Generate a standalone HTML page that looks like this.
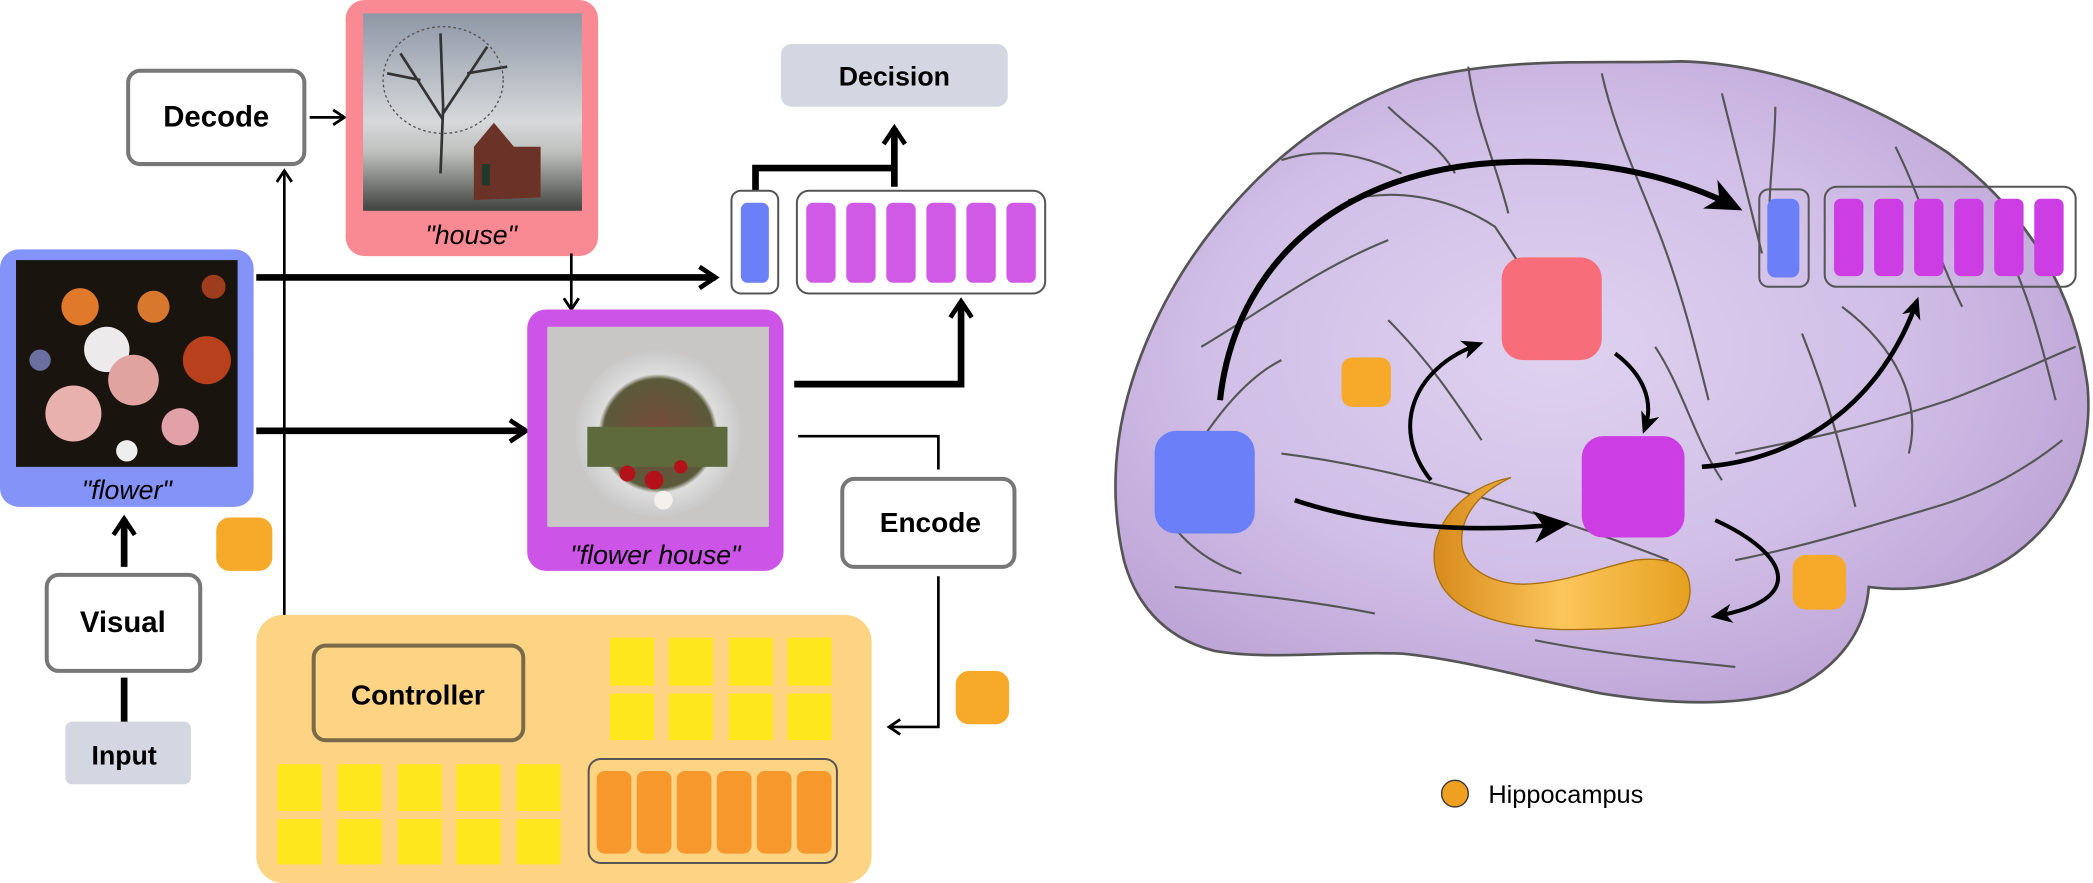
<!DOCTYPE html>
<html><head><meta charset="utf-8"><style>
html,body{margin:0;padding:0;background:#fff;}
svg{display:block;}
text{font-family:"Liberation Sans",sans-serif;}
</style></head><body>
<svg width="2093" height="883" viewBox="0 0 1568 662" preserveAspectRatio="none">
<defs>
<marker id="chev" viewBox="0 0 20 20" refX="16" refY="10" markerWidth="20" markerHeight="20" markerUnits="userSpaceOnUse" orient="auto"><path d="M4,2 L16,10 L4,18" fill="none" stroke="#000" stroke-width="3.5"/></marker>
<marker id="chevS" viewBox="0 0 20 20" refX="16" refY="10" markerWidth="14" markerHeight="14" markerUnits="userSpaceOnUse" orient="auto"><path d="M4,2 L16,10 L4,18" fill="none" stroke="#000" stroke-width="3"/></marker>
<marker id="tri" viewBox="0 0 20 20" refX="14" refY="10" markerWidth="18" markerHeight="18" markerUnits="userSpaceOnUse" orient="auto"><path d="M0,2 L18,10 L0,18 L5,10Z" fill="#000"/></marker>
<marker id="triB" viewBox="0 0 20 20" refX="14" refY="10" markerWidth="30" markerHeight="30" markerUnits="userSpaceOnUse" orient="auto"><path d="M0,2 L18,10 L0,18 L5,10Z" fill="#000"/></marker>
<linearGradient id="sky" x1="0" y1="0" x2="0" y2="1"><stop offset="0" stop-color="#8e97a6"/><stop offset="0.55" stop-color="#d6d8da"/><stop offset="0.7" stop-color="#bfc1bf"/><stop offset="1" stop-color="#3f4340"/></linearGradient>
<radialGradient id="fh" cx="0.5" cy="0.5" r="0.6"><stop offset="0" stop-color="#7a4a3a"/><stop offset="0.55" stop-color="#5a5a3a"/><stop offset="0.6" stop-color="#ddd"/><stop offset="1" stop-color="#bbb"/></radialGradient>
<radialGradient id="brainG" cx="0.45" cy="0.45" r="0.6"><stop offset="0" stop-color="#dfd2f0"/><stop offset="0.6" stop-color="#d0bee6"/><stop offset="1" stop-color="#bca4d6"/></radialGradient>
<linearGradient id="hip" x1="0" y1="0" x2="1" y2="0"><stop offset="0" stop-color="#d88a1c"/><stop offset="0.5" stop-color="#fbc65a"/><stop offset="1" stop-color="#e5a020"/></linearGradient>
</defs>

<!-- LEFT PANEL -->
<g>
<rect x="96" y="53" width="132" height="70" rx="9" fill="#fff" stroke="#777" stroke-width="3"/>
<text x="162" y="95" font-size="22" font-weight="bold" text-anchor="middle">Decode</text></g>
<line x1="232" y1="88" x2="258" y2="88" stroke="#000" stroke-width="2" marker-end="url(#chevS)"/>

<g>
<rect x="259" y="0" width="189" height="192" rx="14" fill="#f98a94"/>
<rect x="272" y="10" width="164" height="148" fill="url(#sky)"/>
<path d="M330,130 L332,80 M332,90 L300,40 M332,85 L365,35 M332,80 L330,25 M315,60 L290,55 M350,55 L380,50" stroke="#333" stroke-width="2" fill="none"/>
<ellipse cx="332" cy="60" rx="45" ry="40" fill="none" stroke="#555" stroke-width="1" stroke-dasharray="2 2"/>
<path d="M355,150 L355,110 L370,92 L385,110 L405,110 L405,148Z" fill="#6b3328"/>
<rect x="361" y="123" width="6" height="16" fill="#1f3a2a"/>
<text x="353" y="183" font-size="20" font-style="italic" text-anchor="middle">"house"</text></g>
<line x1="428" y1="190" x2="428" y2="232" stroke="#000" stroke-width="2" marker-end="url(#chevS)"/>

<g>
<rect x="0" y="187" width="190" height="193" rx="14" fill="#8493f8"/>
<rect x="12" y="195" width="166" height="155" fill="#1a140e"/>
<circle cx="60" cy="230" r="14" fill="#e07a2a"/><circle cx="80" cy="262" r="17" fill="#eceaea"/>
<circle cx="155" cy="270" r="18" fill="#b8401c"/><circle cx="100" cy="285" r="19" fill="#e1a3a0"/>
<circle cx="55" cy="310" r="21" fill="#e8b1ad"/><circle cx="135" cy="320" r="14" fill="#e2a0a8"/>
<circle cx="115" cy="230" r="12" fill="#d7782e"/><circle cx="30" cy="270" r="8" fill="#6a6fa0"/>
<circle cx="160" cy="215" r="9" fill="#9e3c1e"/><circle cx="95" cy="338" r="8" fill="#eee"/>
<text x="95" y="374" font-size="20" font-style="italic" text-anchor="middle">"flower"</text></g>

<line x1="192" y1="208" x2="536" y2="208" stroke="#000" stroke-width="5" marker-end="url(#chev)"/>
<line x1="192" y1="323" x2="394" y2="323" stroke="#000" stroke-width="5" marker-end="url(#chev)"/>
<line x1="213" y1="520" x2="213" y2="128" stroke="#000" stroke-width="2" marker-end="url(#chevS)"/>

<g>
<rect x="395" y="232" width="192" height="196" rx="14" fill="#cc55e8"/>
<rect x="410" y="245" width="166" height="150" fill="#c9c7c5"/>
<ellipse cx="493" cy="325" rx="62" ry="62" fill="url(#fh)"/>
<rect x="440" y="320" width="105" height="30" fill="#5e6a3c"/>
<circle cx="470" cy="355" r="6" fill="#b3121a"/><circle cx="490" cy="360" r="7" fill="#b3121a"/><circle cx="510" cy="350" r="5" fill="#b3121a"/><circle cx="497" cy="375" r="7" fill="#f4f0ec"/>
<text x="491" y="423" font-size="20" font-style="italic" text-anchor="middle">"flower house"</text></g>

<g>
<rect x="585" y="33" width="170" height="47" rx="8" fill="#d4d7e2"/>
<text x="670" y="64" font-size="20" font-weight="bold" text-anchor="middle">Decision</text></g>
<path d="M566,155 L566,126 L670,126" fill="none" stroke="#000" stroke-width="5"/>
<line x1="670" y1="140" x2="670" y2="96" stroke="#000" stroke-width="5" marker-end="url(#chev)"/>

<g>
<rect x="548" y="143" width="35" height="77" rx="7" fill="#fff" stroke="#555" stroke-width="1.5"/>
<rect x="555" y="152" width="21" height="60" rx="5" fill="#6b7ff8"/>
<rect x="597" y="143" width="186" height="77" rx="9" fill="#fff" stroke="#555" stroke-width="1.5"/>
<rect x="604" y="152" width="22" height="60" rx="5" fill="#d05ae6"/><rect x="634" y="152" width="22" height="60" rx="5" fill="#d05ae6"/><rect x="664" y="152" width="22" height="60" rx="5" fill="#d05ae6"/><rect x="694" y="152" width="22" height="60" rx="5" fill="#d05ae6"/><rect x="724" y="152" width="22" height="60" rx="5" fill="#d05ae6"/><rect x="754" y="152" width="22" height="60" rx="5" fill="#d05ae6"/></g>

<path d="M595,288 L720,288 L720,226" fill="none" stroke="#000" stroke-width="5" marker-end="url(#chev)"/>
<path d="M598,327 L703,327 L703,352" fill="none" stroke="#000" stroke-width="2"/>
<g>
<rect x="631" y="359" width="129" height="66" rx="9" fill="#fff" stroke="#777" stroke-width="3"/>
<text x="697" y="399" font-size="21" font-weight="bold" text-anchor="middle">Encode</text></g>
<path d="M703,432 L703,545 L666,545" fill="none" stroke="#000" stroke-width="2" marker-end="url(#chevS)"/>

<rect x="162" y="388" width="42" height="40" rx="10" fill="#f7a92a"/>
<rect x="716" y="503" width="40" height="40" rx="10" fill="#f7a92a"/>

<line x1="93" y1="425" x2="93" y2="389" stroke="#000" stroke-width="5" marker-end="url(#chev)"/>
<g>
<rect x="35" y="431" width="115" height="72" rx="9" fill="#fff" stroke="#777" stroke-width="3"/>
<text x="92" y="474" font-size="22" font-weight="bold" text-anchor="middle">Visual</text></g>
<line x1="93" y1="508" x2="93" y2="543" stroke="#000" stroke-width="5"/>
<g>
<rect x="49" y="541" width="94" height="47" rx="5" fill="#d4d7e2"/>
<text x="93" y="573" font-size="20" font-weight="bold" text-anchor="middle">Input</text></g>

<g>
<rect x="192" y="461" width="461" height="201" rx="20" fill="#fcd484"/>
<rect x="235" y="484" width="157" height="71" rx="9" fill="#fcd484" stroke="#7a6a4a" stroke-width="3"/>
<text x="313" y="528" font-size="21" font-weight="bold" text-anchor="middle">Controller</text>
<g fill="#fce81c">
<rect x="457" y="478" width="33" height="36"/><rect x="501" y="478" width="33" height="36"/><rect x="546" y="478" width="33" height="36"/><rect x="590" y="478" width="33" height="36"/>
<rect x="457" y="520" width="33" height="35"/><rect x="501" y="520" width="33" height="35"/><rect x="546" y="520" width="33" height="35"/><rect x="590" y="520" width="33" height="35"/>
<rect x="208" y="573" width="33" height="35"/><rect x="253" y="573" width="33" height="35"/><rect x="298" y="573" width="33" height="35"/><rect x="342" y="573" width="33" height="35"/><rect x="387" y="573" width="33" height="35"/>
<rect x="208" y="614" width="33" height="34"/><rect x="253" y="614" width="33" height="34"/><rect x="298" y="614" width="33" height="34"/><rect x="342" y="614" width="33" height="34"/><rect x="387" y="614" width="33" height="34"/></g>
<rect x="441" y="569" width="186" height="78" rx="9" fill="none" stroke="#555" stroke-width="1.5"/>
<g fill="#f7982c"><rect x="447" y="578" width="26" height="62" rx="6"/><rect x="477" y="578" width="26" height="62" rx="6"/><rect x="507" y="578" width="26" height="62" rx="6"/><rect x="537" y="578" width="26" height="62" rx="6"/><rect x="567" y="578" width="26" height="62" rx="6"/><rect x="597" y="578" width="26" height="62" rx="6"/></g></g>

<!-- RIGHT PANEL: BRAIN -->
<g>
<path d="M838,330 C845,280 870,220 910,170 C950,120 1000,80 1060,60 C1130,42 1200,48 1260,46 C1330,48 1400,75 1460,115 C1520,160 1555,220 1564,290 C1568,340 1550,385 1510,415 C1480,437 1440,445 1400,440 C1398,470 1380,500 1340,518 C1300,530 1250,528 1200,520 C1150,510 1100,495 1050,490 C1000,488 950,495 910,488 C870,478 850,450 842,420 C835,390 834,360 838,330Z" fill="url(#brainG)" stroke="#555" stroke-width="2"/>
<g fill="none" stroke="#555" stroke-width="1.6">
<path d="M1010,150 C1050,140 1090,150 1120,170 C1140,200 1160,230 1170,260"/>
<path d="M900,260 C950,230 990,200 1040,180"/>
<path d="M1100,50 C1105,90 1120,120 1130,160"/>
<path d="M1200,55 C1210,100 1230,140 1245,180 C1260,220 1270,260 1280,300"/>
<path d="M960,340 C1000,345 1050,355 1100,370 C1150,385 1200,400 1250,420"/>
<path d="M880,440 C930,445 980,450 1030,460"/>
<path d="M1300,340 C1350,330 1400,320 1460,300 C1500,285 1530,270 1555,260"/>
<path d="M1300,420 C1350,410 1400,395 1450,380 C1490,368 1520,350 1545,330"/>
<path d="M1330,80 C1330,120 1320,160 1330,200"/>
<path d="M1420,110 C1440,150 1450,190 1470,230"/>
<path d="M1040,240 C1070,270 1090,300 1110,330"/>
<path d="M870,380 C880,400 900,420 930,430"/>
<path d="M1150,480 C1200,490 1250,495 1300,500"/>
<path d="M1350,250 C1370,300 1380,340 1390,380"/>
<path d="M960,120 C990,110 1020,115 1050,130"/>
<path d="M1500,180 C1520,220 1530,260 1540,300"/>
<path d="M1040,80 C1060,100 1080,110 1090,130"/>
<path d="M1290,70 C1300,110 1310,150 1320,190"/>
<path d="M1240,260 C1260,290 1270,330 1290,360"/>
<path d="M1380,230 C1420,260 1440,300 1430,340"/>
<path d="M900,330 C920,300 940,280 960,270"/>
</g></g>

<g>
<path d="M1132,358 C1095,365 1070,395 1075,425 C1080,455 1115,470 1170,472 C1210,472 1245,470 1258,462 C1268,455 1268,435 1262,428 C1255,420 1240,418 1225,420 C1200,425 1170,438 1140,438 C1115,437 1095,425 1095,405 C1095,385 1110,368 1132,358Z" fill="url(#hip)" stroke="#a8700e" stroke-width="1"/></g>

<rect x="865" y="323" width="75" height="77" rx="16" fill="#6b7ff8"/>
<rect x="1125" y="193" width="75" height="77" rx="16" fill="#f76d7a"/>
<rect x="1185" y="327" width="77" height="76" rx="16" fill="#cc3de4"/>
<rect x="1005" y="268" width="37" height="37" rx="8" fill="#f7a92a"/>
<rect x="1343" y="416" width="40" height="41" rx="10" fill="#f7a92a"/>

<g>
<rect x="1318" y="142" width="37" height="73" rx="7" fill="none" stroke="#555" stroke-width="1.5"/>
<rect x="1324" y="149" width="24" height="59" rx="6" fill="#6b7ff8"/>
<rect x="1367" y="140" width="188" height="75" rx="9" fill="none" stroke="#555" stroke-width="1.5"/>
<g fill="#cc3de4"><rect x="1374" y="149" width="22" height="58" rx="5"/><rect x="1404" y="149" width="22" height="58" rx="5"/><rect x="1434" y="149" width="22" height="58" rx="5"/><rect x="1464" y="149" width="22" height="58" rx="5"/><rect x="1494" y="149" width="22" height="58" rx="5"/><rect x="1524" y="149" width="22" height="58" rx="5"/></g></g>

<g fill="none" stroke="#000">
<path d="M914,300 C925,200 1000,130 1120,122 C1190,118 1250,130 1300,155" stroke-width="4.5" marker-end="url(#triB)"/>
<path d="M970,375 C1030,395 1100,400 1170,393" stroke-width="3.5" marker-end="url(#triB)"/>
<path d="M1072,360 C1040,320 1060,275 1108,258" stroke-width="3" marker-end="url(#tri)"/>
<path d="M1210,265 C1230,280 1240,300 1232,322" stroke-width="3" marker-end="url(#tri)"/>
<path d="M1275,350 C1350,345 1410,300 1436,226" stroke-width="3.5" marker-end="url(#tri)"/>
<path d="M1285,390 C1340,415 1355,450 1285,462" stroke-width="3" marker-end="url(#tri)"/>
</g>

<g>
<circle cx="1090" cy="595" r="10" fill="#f0a020" stroke="#333" stroke-width="1"/>
<text x="1115" y="602" font-size="19">Hippocampus</text></g>
</svg>
</body></html>
